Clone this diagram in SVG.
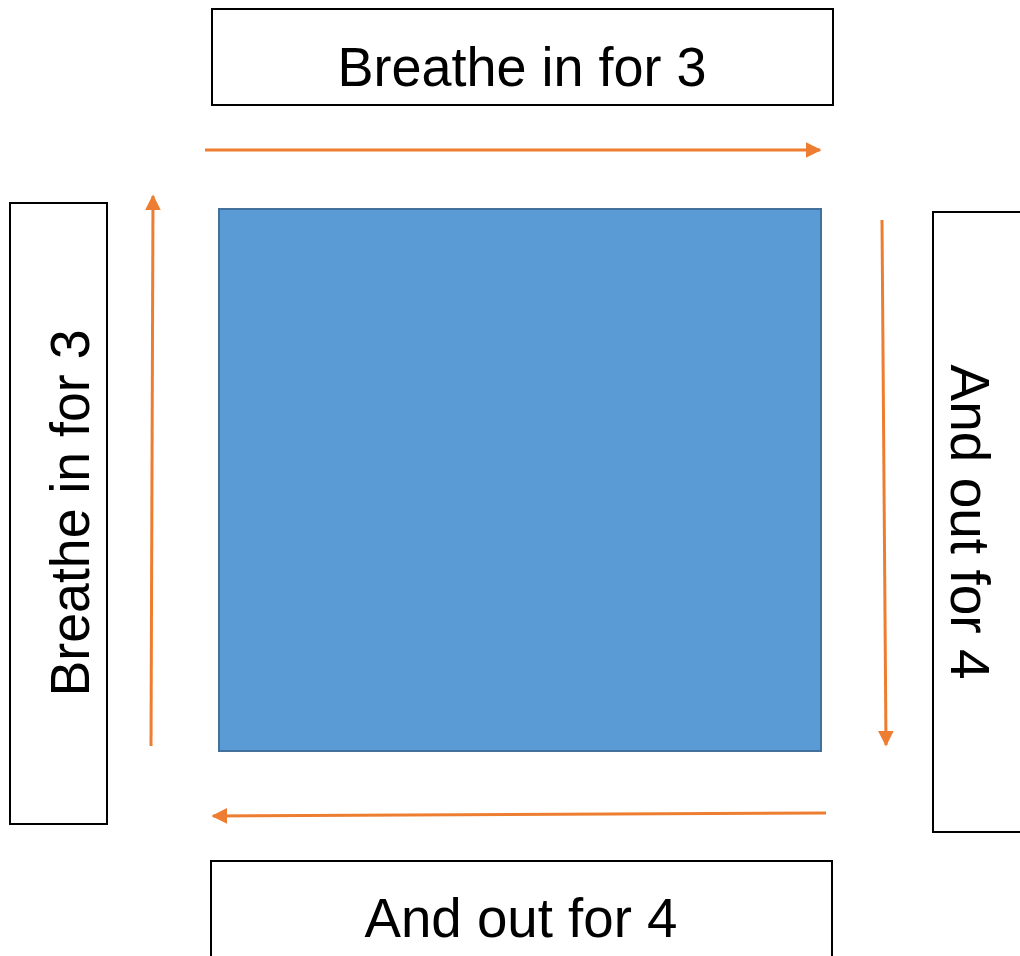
<svg xmlns="http://www.w3.org/2000/svg" width="1020" height="956" viewBox="0 0 1020 956">
<style>
.box{fill:#fff;stroke:#000;stroke-width:2}
.lbl{font-family:"Liberation Sans",Arial,sans-serif;font-size:55px;fill:#000}
.arr{stroke:#ED7D31;stroke-width:3;fill:none}
</style>
<defs>
<marker id="ah" viewBox="0 0 10 10" refX="9" refY="5" markerWidth="5.3" markerHeight="5.3" markerUnits="strokeWidth" orient="auto">
<path d="M0,0 L10,5 L0,10 Z" fill="#ED7D31"/>
</marker>
</defs>
<rect width="1020" height="956" fill="#fff"/>
<g id="center">
<rect x="219" y="209" width="602" height="542" fill="#5B9BD5" stroke="#41719C" stroke-width="2"/>
</g>
<g id="top">
<rect class="box" x="212" y="9" width="621" height="96"/>
<text class="lbl" x="522" y="86" text-anchor="middle" textLength="369" lengthAdjust="spacingAndGlyphs">Breathe in for 3</text>
</g>
<g id="left">
<rect class="box" x="10" y="203" width="97" height="621"/>
<text class="lbl" transform="translate(89,513) rotate(-90)" text-anchor="middle" textLength="367" lengthAdjust="spacingAndGlyphs">Breathe in for 3</text>
</g>
<g id="right">
<rect class="box" x="933" y="212" width="100" height="620"/>
<text class="lbl" transform="translate(951,522) rotate(90)" text-anchor="middle" textLength="315" lengthAdjust="spacingAndGlyphs">And out for 4</text>
</g>
<g id="bottom">
<rect class="box" x="211" y="861" width="621" height="110"/>
<text class="lbl" x="521" y="937" text-anchor="middle" textLength="313" lengthAdjust="spacingAndGlyphs">And out for 4</text>
</g>
<g id="connectors">
<line class="arr" x1="205" y1="150" x2="820" y2="150" marker-end="url(#ah)"/>
<line class="arr" x1="151" y1="746" x2="153" y2="196" marker-end="url(#ah)"/>
<line class="arr" x1="882" y1="220" x2="886" y2="745" marker-end="url(#ah)"/>
<line class="arr" x1="826" y1="813" x2="213" y2="816" marker-end="url(#ah)"/>
</g>
</svg>
